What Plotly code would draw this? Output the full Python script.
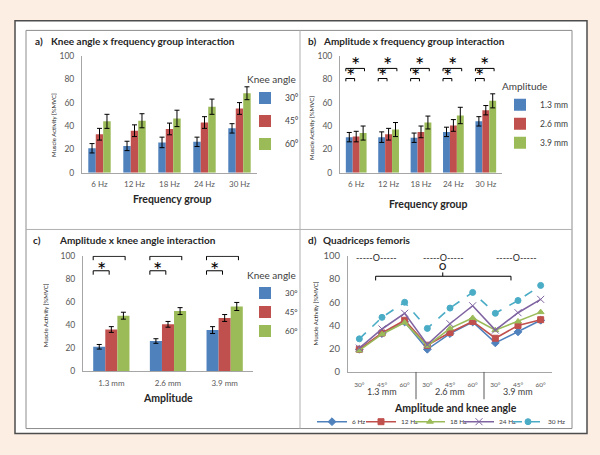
import plotly.graph_objects as go

W, H = 600, 455
def fx(px): return px / W
def fy(py): return 1 - py / H

# ---------------- data ----------------
freq_groups = ["6 Hz", "12 Hz", "18 Hz", "24 Hz", "30 Hz"]
knee_angles = ["30°", "45°", "60°"]
amplitudes = ["1.3 mm", "2.6 mm", "3.9 mm"]

# a) knee angle x frequency group
a_30 = [21, 23, 26, 26.5, 38]
a_30_err = [4, 4, 4.5, 4, 4]
a_45 = [33, 36, 37.5, 43, 55]
a_45_err = [5, 5, 5, 5, 5]
a_60 = [44, 44.5, 46.5, 56.5, 68]
a_60_err = [6, 6, 7, 6.5, 5.5]

# b) amplitude x frequency group
b_13 = [30.5, 30.5, 30, 35, 44]
b_13_err = [4, 4.5, 4, 4, 4]
b_26 = [31, 33, 35, 40.5, 53.5]
b_26_err = [4.5, 5, 5, 5, 4]
b_39 = [34, 37, 43, 49, 61.5]
b_39_err = [6, 6, 5.5, 7, 6]

# c) amplitude x knee angle
c_30 = [21, 26, 35.5]
c_30_err = [2, 2, 3]
c_45 = [36, 40.5, 46]
c_45_err = [2.5, 2.5, 3]
c_60 = [48, 52, 56]
c_60_err = [3, 3, 3.5]

# d) quadriceps femoris (amplitude x knee angle, per frequency)
d_6 = [19.5, 33, 43, 19.5, 33, 43, 25, 34.5, 44.5]
d_12 = [19.5, 33.5, 44.5, 23, 34, 43.5, 29, 40, 45]
d_18 = [18.5, 32.5, 42.5, 22.5, 37.5, 46.5, 36, 43.5, 51.5]
d_24 = [20.5, 37, 50.5, 23.5, 41.5, 57, 36, 51, 62.5]
d_30 = [28.5, 47, 60, 37.5, 55, 68.5, 50.5, 61.5, 74.5]

# ---------------- styles ----------------
FONT = "Lato"
TXT = "#262626"
TICK = "#595959"
AXL = "#A6A6A6"
BLUE, RED, GREEN, PURPLE, CYAN = "#4F81BD", "#C0504D", "#9BBB59", "#8064A2", "#4BACC6"
BAR_COLORS = [BLUE, RED, GREEN]
BARGAP = 0.36

fig = go.Figure()

def add_bars(xcats, series, errs, names, xa, ya, leg, prefix):
    for vals, err, name, col in zip(series, errs, names, BAR_COLORS):
        fig.add_trace(go.Bar(
            x=xcats, y=vals, name=name, marker=dict(color=col, line_width=0),
            error_y=dict(type="data", array=err, color="black", thickness=1, width=2.5),
            xaxis=xa, yaxis=ya, legend=leg, legendgroup=prefix + name))

add_bars(freq_groups, [a_30, a_45, a_60], [a_30_err, a_45_err, a_60_err], knee_angles, "x", "y", "legend", "a")
add_bars(freq_groups, [b_13, b_26, b_39], [b_13_err, b_26_err, b_39_err], amplitudes, "x2", "y2", "legend2", "b")
add_bars(amplitudes, [c_30, c_45, c_60], [c_30_err, c_45_err, c_60_err], knee_angles, "x3", "y3", "legend3", "c")

d_series = [d_6, d_12, d_18, d_24, d_30]
d_colors = [BLUE, RED, GREEN, PURPLE, CYAN]
d_symbols = ["diamond", "square", "triangle-up", "x-thin-open", "circle"]
d_dash = ["solid", "solid", "solid", "solid", "dash"]
d_x = list(range(len(amplitudes) * len(knee_angles)))
for k, (vals, name, col, sym, dash) in enumerate(zip(d_series, freq_groups, d_colors, d_symbols, d_dash)):
    fig.add_trace(go.Scatter(
        x=d_x, y=vals, name=name, mode="lines+markers",
        line=dict(color=col, width=1.6, dash=dash),
        marker=dict(symbol=sym, size=6 if sym != "x-thin-open" else 7, color=col,
                    line=dict(color=col, width=1)),
        legendwidth=4 if k < len(d_series) - 1 else 20,
        xaxis="x4", yaxis="y4", legend="legend4"))

# ---------------- axes ----------------
def yax(dom, anchor, tsize):
    return dict(domain=dom, anchor=anchor, range=[0, 100], dtick=20, tick0=0,
                showline=True, linecolor=AXL, linewidth=1, showgrid=False, zeroline=False,
                ticks="", ticklabelstandoff=5,
                tickfont=dict(family=FONT, size=tsize, color=TICK), fixedrange=True)

def xax(dom, anchor, tsize, **kw):
    d = dict(domain=dom, anchor=anchor, showline=True, linecolor=AXL, linewidth=1,
             showgrid=False, zeroline=False, ticks="", ticklabelstandoff=4,
             tickfont=dict(family=FONT, size=tsize, color=TICK), fixedrange=True)
    d.update(kw)
    return d

ya_dom = [fy(171), fy(51)]
yc_dom = [fy(374), fy(256)]
fig.update_layout(
    xaxis=xax([fx(82), fx(257)], "y", 8),
    yaxis=yax(ya_dom, "x", 8.5),
    xaxis2=xax([fx(340), fx(502)], "y2", 8),
    yaxis2=yax(ya_dom, "x2", 8.5),
    xaxis3=xax([fx(83), fx(253)], "y3", 8),
    yaxis3=yax(yc_dom, "x3", 8.5),
    xaxis4=xax([fx(348), fx(552)], "y4", 6.5, range=[-0.5, len(d_x) - 0.5],
               tickvals=d_x, ticktext=knee_angles * len(amplitudes), ticklabelstandoff=6),
    yaxis4=yax([fy(375), fy(256)], "x4", 9.5),
)

# ---------------- legends ----------------
def vleg(x, y, title, tsize, isize, gap):
    return dict(x=x, y=y, xanchor="left", yanchor="top", orientation="v",
                title=dict(text=title, font=dict(family=FONT, size=tsize, color="#404040")),
                font=dict(family=FONT, size=isize, color="#404040"),
                bgcolor="rgba(0,0,0,0)", traceorder="grouped", tracegroupgap=gap,
                itemclick=False, itemdoubleclick=False)

fig.update_layout(
    legend=vleg(fx(245), fy(66), "Knee angle", 10, 8.5, 4),
    legend2=vleg(fx(500), fy(73), "Amplitude", 10, 8.5, 0),
    legend3=vleg(fx(245), fy(266), "Knee angle", 10, 8, 0),
    legend4=dict(orientation="h", x=fx(312), y=fy(426), xanchor="left", yanchor="middle",
                 font=dict(family=FONT, size=6.5, color="#404040"), bgcolor="rgba(0,0,0,0)",
                 itemwidth=30, itemclick=False, itemdoubleclick=False),
)

# ---------------- frame shapes ----------------
shapes = []
def pline(x0, y0, x1, y1, color, width):
    shapes.append(dict(type="line", xref="paper", yref="paper", x0=fx(x0), y0=fy(y0),
                       x1=fx(x1), y1=fy(y1), line=dict(color=color, width=width), layer="below"))

shapes.append(dict(type="rect", xref="paper", yref="paper", x0=fx(15), x1=fx(587), y0=fy(438), y1=fy(15),
                   fillcolor="white", line=dict(color="#4D4D4D", width=1.5), layer="below"))
shapes.append(dict(type="rect", xref="paper", yref="paper", x0=fx(26), x1=fx(572), y0=fy(433), y1=fy(25),
                   fillcolor="white", line=dict(color="#8C8C8C", width=1), layer="below"))
pline(300, 25, 300, 433, "#B0B0B0", 1)
pline(26, 229, 572, 229, "#B0B0B0", 1)

annos = []
def txt(x, y, s, size, bold=False, xanchor="center", yanchor="middle", color=TXT, angle=0,
        xref="paper", yref="paper"):
    annos.append(dict(x=x, y=y, xref=xref, yref=yref, text=f"<b>{s}</b>" if bold else s,
                      showarrow=False, font=dict(family=FONT, size=size, color=color),
                      xanchor=xanchor, yanchor=yanchor, textangle=angle))

def dline(xr, yr, x0, y0, x1, y1, width=1, color="black"):
    shapes.append(dict(type="line", xref=xr, yref=yr, x0=x0, y0=y0, x1=x1, y1=y1,
                       line=dict(color=color, width=width), layer="above"))

def bracket(xr, yr, x0, x1, y, tick):
    dline(xr, yr, x0, y, x1, y)
    dline(xr, yr, x0, y, x0, y - tick)
    dline(xr, yr, x1, y, x1, y - tick)

STAR = 22
# significance brackets: b (every frequency group), c (every amplitude)
half = (1 - BARGAP) / 2
for i in range(len(freq_groups)):
    l = i - half
    ur, lr = i + 0.8 * half, i - 0.15 * half
    bracket("x2", "y2", l, ur, 89.2, 2.4)
    bracket("x2", "y2", l, lr, 80.6, 2.4)
    txt((l + ur) / 2, 92.5, "*", STAR, xref="x2", yref="y2", color="black")
    txt((l + lr) / 2, 83.0, "*", STAR, xref="x2", yref="y2", color="black")
for i in range(len(amplitudes)):
    l = i - half
    ur, lr = i + 0.76 * half, i - 0.12 * half
    bracket("x3", "y3", l, ur, 99.6, 3.4)
    bracket("x3", "y3", l, lr, 87, 3.4)
    txt((l + ur) / 2, 102, "*", STAR, xref="x3", yref="y3", color="black")
    txt((l + lr) / 2, 88, "*", STAR, xref="x3", yref="y3", color="black")

# d) significance markers
for gx in [0.75, 3.7, 6.95]:
    txt(gx, 98.9, "-----O-----", 9, xref="x4", yref="y4", color=TXT)
txt(3.69, 90.8, "O", 9, bold=True, xref="x4", yref="y4", color=TXT)
dline("x4", "y4", 0.72, 82.4, 6.69, 82.4)
dline("x4", "y4", 0.72, 82.4, 0.72, 78.8)
dline("x4", "y4", 6.69, 82.4, 6.69, 78.8)
dline("x4", "y4", 3.68, 82.4, 3.68, 85.7)
# d) amplitude group labels and separators
n_ang = len(knee_angles)
for gi, amp in enumerate(amplitudes):
    txt(gi * n_ang + (n_ang - 1) / 2, fy(395), amp, 9, xref="x4", color="#404040")
    if gi > 0:
        shapes.append(dict(type="line", xref="x4", yref="paper", x0=gi * n_ang - 0.5, x1=gi * n_ang - 0.5,
                           y0=fy(375), y1=fy(403), line=dict(color="#595959", width=1)))

# panel titles
TS = 10
txt(fx(33), fy(36), "a)", TS, bold=True, xanchor="left")
txt(fx(49), fy(36), "Knee angle x frequency group interaction", TS, bold=True, xanchor="left")
txt(fx(306), fy(36), "b)", TS, bold=True, xanchor="left")
txt(fx(321), fy(36), "Amplitude x frequency group interaction", TS, bold=True, xanchor="left")
txt(fx(31), fy(240), "c)", TS, bold=True, xanchor="left")
txt(fx(57), fy(240), "Amplitude x knee angle interaction", TS, bold=True, xanchor="left")
txt(fx(306), fy(240), "d)", TS, bold=True, xanchor="left")
txt(fx(321), fy(240), "Quadriceps femoris", TS, bold=True, xanchor="left")

# axis titles
AS = 10.5
txt(fx(172), fy(198), "Frequency group", AS, bold=True)
txt(fx(428), fy(203), "Frequency group", AS, bold=True)
txt(fx(168), fy(402), "Amplitude", AS, bold=True)
txt(fx(455), fy(412), "Amplitude and knee angle", AS, bold=True)
ytitle = "Muscle Activity [%MVC]"
txt(fx(53), fy(122), ytitle, 6, angle=-90)
txt(fx(312), fy(125), ytitle, 6, angle=-90)
txt(fx(45), fy(317), ytitle, 6, angle=-90)
txt(fx(315), fy(315), ytitle, 6, angle=-90)

fig.update_layout(
    width=W, height=H, margin=dict(l=0, r=0, t=0, b=0),
    paper_bgcolor="#FDEEE4", plot_bgcolor="rgba(0,0,0,0)",
    barmode="group", bargap=BARGAP, bargroupgap=0,
    font=dict(family=FONT, color=TXT),
    shapes=shapes, annotations=annos,
)

fig.write_html("out.html", config={"displayModeBar": False},
               post_script="document.body.style.margin='0';document.body.style.overflow='hidden';")
